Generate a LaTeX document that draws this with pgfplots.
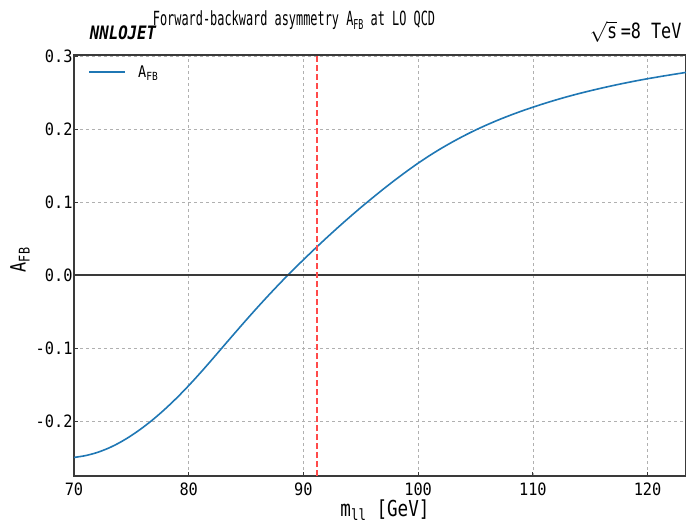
\documentclass[border=0pt]{standalone}
\usepackage{pgfplots}
\pgfplotsset{compat=1.18}
\usepackage{fontspec}
\setmainfont[FakeStretch=0.85]{DejaVu Sans Mono}
\newfontfamily\tickfont[FakeStretch=0.9]{DejaVu Sans Mono}
\newfontfamily\titlefont[FakeStretch=0.61]{DejaVu Sans Mono}
\newfontfamily\labfont[FakeStretch=0.8]{DejaVu Sans Mono}
\newfontfamily\nnlofont[FakeStretch=0.85]{DejaVu Sans Mono}
\definecolor{tabblue}{HTML}{1F77B4}
\definecolor{zred}{HTML}{FF4A4A}
\definecolor{gridgray}{HTML}{B0B0B0}
\definecolor{spine}{HTML}{3A3A3A}
\newcommand{\sub}[1]{\raisebox{-0.35ex}{\scalebox{0.7}{#1}}}
\begin{document}
\begin{tikzpicture}[x=1pt,y=1pt]
\begin{axis}[
  name=ax,
  scale only axis,
  width=612pt, height=421pt,
  xmin=70, xmax=123.35,
  ymin=-0.275, ymax=0.3015,
  xtick={70,80,90,100,110,120},
  ytick={-0.2,-0.1,0,0.1,0.2,0.3},
  yticklabels={-0.2,-0.1,0.0,0.1,0.2,0.3},
  xticklabels={70,80,90,100,110,120},
  tick align=inside,
  major tick length=4pt,
  tick style={spine, line width=0.8pt},
  xtick pos=bottom, ytick pos=left,
  axis line style={spine, line width=1.5pt},
  grid=major,
  major grid style={gridgray, dashed, line width=0.6pt},
  ticklabel style={font=\tickfont\fontsize{17}{19}\selectfont},
  xticklabel style={yshift=-3pt},
  yticklabel style={xshift=2pt},
  /pgf/number format/assume math mode=true,
  legend style={at={(axis description cs:0.0185,0.985)}, anchor=north west, draw=none, fill=none,
    font=\fontsize{16}{18}\selectfont, row sep=2pt},
  legend cell align=left,
  legend image code/.code={\draw[#1] (0pt,0pt) -- (36pt,0pt); \path (46pt,0pt);},
]
\addplot[tabblue, line width=1.6pt, smooth] table {
x y
70 -0.2496
71 -0.2471
72 -0.2429
73 -0.2369
74 -0.2291
75 -0.2196
76 -0.2086
77 -0.1962
78 -0.1824
79 -0.1674
80 -0.1512
81 -0.1340
82 -0.1161
83 -0.0978
84 -0.0796
85 -0.0616
86 -0.0440
87 -0.0269
88 -0.0103
89 0.0057
90 0.0211
91 0.0362
92 0.0509
93 0.0652
94 0.0791
95 0.0926
96 0.1056
97 0.1183
98 0.1305
99 0.1422
100 0.1534
101 0.1638
102 0.1735
103 0.1825
104 0.1909
105 0.1987
106 0.2059
107 0.2126
108 0.2188
109 0.2246
110 0.2300
111 0.2351
112 0.2399
113 0.2444
114 0.2486
115 0.2525
116 0.2562
117 0.2597
118 0.2630
119 0.2661
120 0.2690
121 0.2717
122 0.2743
123 0.2768
123.35 0.2777
};
\addlegendentry{A\sub{FB}}
\addplot[spine, line width=1.4pt, forget plot] coordinates {(70,0) (123.35,0)};
\addplot[zred, dashed, line width=1.3pt, forget plot, dash pattern=on 6pt off 3pt] coordinates {(91.1876,-0.275) (91.1876,0.3015)};
\end{axis}
\node[rotate=90, font=\labfont\fontsize{21}{24}\selectfont] at ([shift={(-54pt,216pt)}]ax.south west) {A\sub{FB}};
\node[font=\labfont\fontsize{22}{24}\selectfont] at ([shift={(311pt,-34pt)}]ax.south west) {m\sub{ll} [GeV]};
\node[font=\titlefont\fontsize{19.5}{21}\selectfont] at ([shift={(220pt,456pt)}]ax.south west) {Forward-backward asymmetry A\sub{FB} at LO QCD};
\node[font=\nnlofont\bfseries\itshape\fontsize{18.5}{20}\selectfont] at ([shift={(49pt,443pt)}]ax.south west) {NNLOJET};
\node[anchor=east, font=\labfont\fontsize{21}{23}\selectfont] at ([shift={(611pt,444pt)}]ax.south west) {$\sqrt{\mbox{s}}$\,=8 TeV};
\pgfresetboundingbox
\path ([shift={(-74pt,-47pt)}]ax.south west) rectangle ([shift={(0pt,55pt)}]ax.north east);
\end{tikzpicture}
\end{document}
